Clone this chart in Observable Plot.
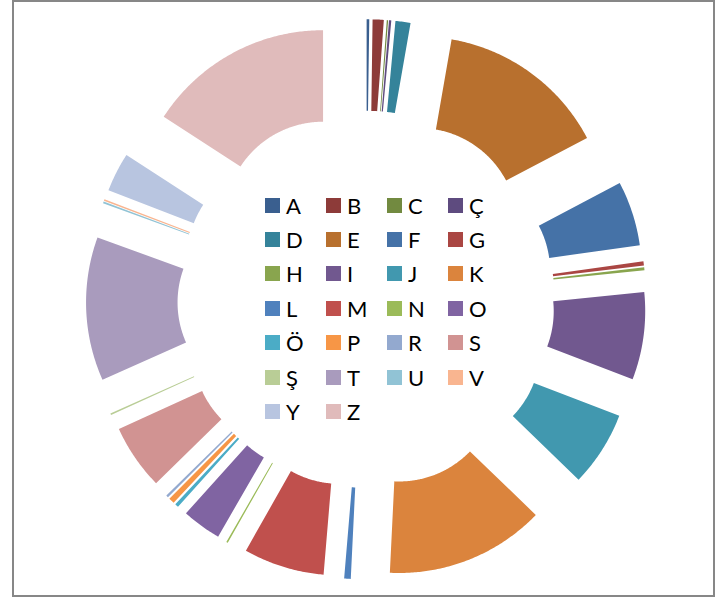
<!DOCTYPE html>
<html>
<head>
<meta charset="utf-8">
<script src="https://cdn.jsdelivr.net/npm/d3@7"></script>
<script src="https://cdn.jsdelivr.net/npm/@observablehq/plot@0.6"></script>
<style>
  html, body { margin: 0; padding: 0; background: #fff; }
  #wrap { position: relative; width: 725px; height: 597px; overflow: hidden; }
  #frame { position: absolute; left: 12px; top: 0px; width: 699px; height: 593px; border: 2px solid #878787; box-sizing: content-box; pointer-events: none; }
  #legend { position: absolute; left: 265px; top: 188px; display: grid; grid-template-columns: repeat(4, 61px); grid-auto-rows: 34.4px; font-family: Lato, "Open Sans", sans-serif; font-size: 22px; color: #000; }
  .item { display: flex; align-items: center; white-space: nowrap; }
  .sw { width: 15px; height: 15px; margin-right: 6px; flex: none; }
  svg { position: absolute; left: 0; top: 0; }
</style>
</head>
<body>
<div id="wrap">
  <div id="chart"></div>
  <div id="legend"></div>
  <div id="frame"></div>
</div>
<script>
// ---- data ----
const letters = ["A","B","C","Ç","D","E","F","G","H","I","J","K","L","M","N","O","Ö","P","R","S","Ş","T","U","V","Y","Z"];
const values  = [0.8, 3.4, 0.4, 0.7, 4.6, 52.3, 19.8, 1.3, 0.9, 26.8, 23, 48.8, 2, 24.7, 0.5, 12, 1.1, 1.8, 0.7, 19.9, 0.5, 44, 0.5, 0.5, 12, 57];
const colors  = ["#3A5F8F","#8D3B39","#728A40","#5E4B7F","#35839A","#B8702E",
                 "#4572A7","#AA4643","#89A54E","#71588F","#4198AF","#DB843D",
                 "#4F81BD","#C0504D","#9BBB59","#8064A2","#4BACC6","#F79646",
                 "#93A9CF","#D19392","#B9CD96","#A99BBD","#91C3D5","#F9B590",
                 "#B8C5E0","#E0BBBB"];

// ---- layout ----
const W = 725, H = 597;
const cx = 365.5, cy = 298.8;       // donut centre in px
const R = 190, r = 98.5, EXPL = 90; // outer/inner radius, explosion

const arcs = d3.pie().sort(null).value(d => d)(values);
const pts = [];
arcs.forEach((a, i) => {
  const m = (a.startAngle + a.endAngle) / 2;
  const ox = EXPL * Math.sin(m), oy = -EXPL * Math.cos(m);
  const n = Math.max(2, Math.ceil((a.endAngle - a.startAngle) / (Math.PI / 360)));
  for (let k = 0; k <= n; k++) {
    const t = a.startAngle + (a.endAngle - a.startAngle) * k / n;
    pts.push({key: letters[i], x: ox + R * Math.sin(t), y: oy - R * Math.cos(t)});
  }
  for (let k = n; k >= 0; k--) {
    const t = a.startAngle + (a.endAngle - a.startAngle) * k / n;
    pts.push({key: letters[i], x: ox + r * Math.sin(t), y: oy - r * Math.cos(t)});
  }
});

const chart = Plot.plot({
  width: W, height: H,
  margin: 0,
  x: {domain: [-cx, W - cx], range: [0, W], axis: null},
  y: {domain: [-cy, H - cy], range: [0, H], axis: null},
  color: {domain: letters, range: colors},
  marks: [
    Plot.line(pts, {x: "x", y: "y", z: "key", fill: "key", stroke: "none", curve: "linear-closed"})
  ]
});
document.getElementById("chart").appendChild(chart);

const leg = document.getElementById("legend");
letters.forEach((l, i) => {
  const it = document.createElement("div");
  it.className = "item";
  const sw = document.createElement("span");
  sw.className = "sw";
  sw.style.background = colors[i];
  const tx = document.createElement("span");
  tx.textContent = l;
  it.appendChild(sw); it.appendChild(tx);
  leg.appendChild(it);
});
</script>
</body>
</html>
